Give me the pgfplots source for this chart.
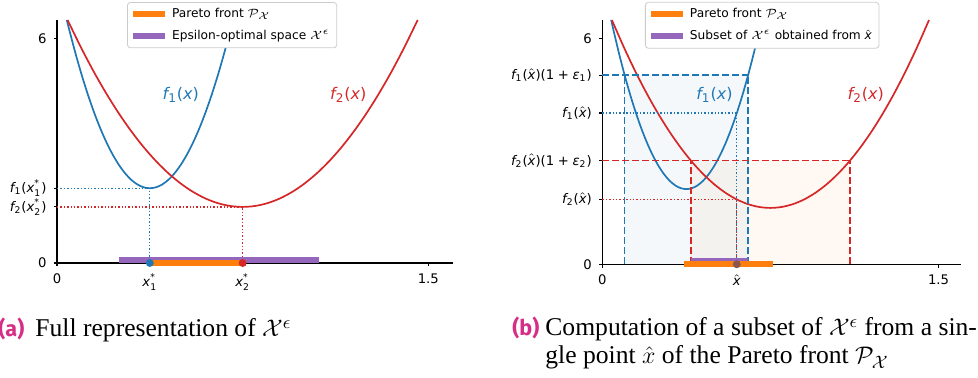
\documentclass[border=0pt]{standalone}
\usepackage{amsmath}
\usepackage{fontspec}
\usepackage{pgfplots}
\pgfplotsset{compat=1.18}
\setmainfont{DejaVu Sans}
\newfontfamily\capfont{Liberation Serif}
\newfontfamily\labfont{Fira Sans}
\definecolor{tblue}{HTML}{1F77B4}
\definecolor{tred}{HTML}{D62728}
\definecolor{torange}{HTML}{FF7F0E}
\definecolor{tpurple}{HTML}{9467BD}
\definecolor{tbrown}{HTML}{8C564B}
\definecolor{capmag}{RGB}{214,46,135}
\newcommand{\ti}[1]{\text{\itshape #1}}
\newcommand{\tu}[1]{\text{#1}}
\newcommand{\pl}{\mathbin{\text{+}}}
\newcommand{\tfont}{\fontsize{6.6}{7.9}\selectfont}
\newcommand{\gfont}{\fontsize{6.1}{7.3}\selectfont}
\newcommand{\lfont}{\fontsize{8}{9.6}\selectfont}
\newcommand{\cfont}{\capfont\fontsize{12.8}{15}\selectfont}
\newcommand{\kfont}{\labfont\bfseries\fontsize{10.8}{13}\selectfont}
\pgfplotsset{
  panel/.style={
    scale only axis, clip=false,
    axis x line*=bottom, axis y line*=left,
    axis line style={black, line width=0.55pt, -},
    tick style={black, line width=0.55pt},
    major tick length=1.75pt,
    xtick align=outside, ytick align=outside,
    xmin=0, xmax=1.6, ymin=0, ymax=6.5,
    ticklabel style={font=\tfont},
    legend cell align=left,
    legend style={draw=black!20, rounded corners=1.5pt, fill=white,
      font=\gfont, anchor=north west, inner xsep=1.5pt, inner ysep=0.8pt,
      row sep=0.8pt},
    legend image code/.code={\draw[##1] (0pt,0pt) -- (16pt,0pt);},
  },
  curve/.style={line width=0.85pt, smooth},
  dotl/.style={line width=0.65pt, dash pattern=on 0.7pt off 1.0pt},
  dashl/.style={line width=0.75pt, dash pattern=on 3.5pt off 1.5pt},
  bar/.style={line width=2.8pt, line cap=butt},
}
\begin{document}
\begin{tikzpicture}
\path[use as bounding box] (0,0) rectangle (489pt,189pt);
% ---------------- panel (a)
\begin{axis}[panel, at={(28.5pt,57.5pt)}, anchor=south west,
  width=198pt, height=121.5pt,
  xtick={0,0.375,0.75,1.5},
  xticklabels={0,$\ti{x}^{\tu{*}}_{\tu{1}}$,$\ti{x}^{\tu{*}}_{\tu{2}}$,1.5},
  ytick={0,1.5,2,6},
  yticklabels={0,$\ti{f}_{\tu{2}}\tu{(}\ti{x}^{\tu{*}}_{\tu{2}}\tu{)}$,$\ti{f}_{\tu{1}}\tu{(}\ti{x}^{\tu{*}}_{\tu{1}}\tu{)}$,6},
  legend style={at={(0.177,1.074)}},
]
\addplot[tblue, curve, forget plot] coordinates {
(0.0396,6.5) (0.05,6.225) (0.075,5.6) (0.1,5.025) (0.125,4.5) (0.15,4.025)
(0.175,3.6) (0.2,3.225) (0.225,2.9) (0.25,2.625) (0.275,2.4) (0.3,2.225)
(0.325,2.1) (0.35,2.025) (0.375,2) (0.4,2.025) (0.425,2.1) (0.45,2.225)
(0.475,2.4) (0.5,2.625) (0.525,2.9) (0.55,3.225) (0.575,3.6) (0.6,4.025)
(0.625,4.5) (0.65,5.025) (0.675,5.6) (0.7,6.225) (0.7104,6.5)};
\addplot[tred, curve, forget plot] coordinates {
(0.0429,6.5) (0.05,6.4) (0.1,5.725) (0.15,5.1) (0.2,4.525) (0.25,4.0)
(0.3,3.525) (0.35,3.1) (0.4,2.725) (0.45,2.4) (0.5,2.125) (0.55,1.9)
(0.6,1.725) (0.65,1.6) (0.7,1.525) (0.75,1.5) (0.8,1.525) (0.85,1.6)
(0.9,1.725) (0.95,1.9) (1.0,2.125) (1.05,2.4) (1.1,2.725) (1.15,3.1)
(1.2,3.525) (1.25,4.0) (1.3,4.525) (1.35,5.1) (1.4,5.725) (1.45,6.4) (1.4571,6.5)};
\addplot[tblue, dotl, forget plot] coordinates {(0,2) (0.375,2) (0.375,0)};
\addplot[tred, dotl, forget plot] coordinates {(0,1.5) (0.75,1.5) (0.75,0)};
\addplot[tpurple, bar, forget plot] coordinates {(0.251,0.08) (1.058,0.08)};
\addplot[torange, bar, forget plot] coordinates {(0.363,0) (0.762,0)};
\addplot[only marks, mark=*, mark size=1.75pt, tblue, forget plot] coordinates {(0.375,0)};
\addplot[only marks, mark=*, mark size=1.75pt, tred, forget plot] coordinates {(0.75,0)};
\node[tblue, font=\lfont] at (axis cs:0.5,4.5) {$\ti{f}_{\tu{1}}\tu{(}\ti{x}\tu{)}$};
\node[tred, font=\lfont] at (axis cs:1.177,4.5) {$\ti{f}_{\tu{2}}\tu{(}\ti{x}\tu{)}$};
\addlegendimage{torange, bar}
\addlegendentry{Pareto front $\mathcal{P}_{\mathcal{X}}$}
\addlegendimage{tpurple, bar}
\addlegendentry{Epsilon-optimal space $\mathcal{X}^{\epsilon}$}
\end{axis}
% ---------------- panel (b)
\begin{axis}[panel, at={(301.15pt,56.85pt)}, anchor=south west,
  width=179.35pt, height=122.15pt,
  xtick={0,0.6,1.5},
  xticklabels={0,$\hat{\ti{x}}$,1.5},
  ytick={0,1.725,2.76,4.025,5.03,6},
  yticklabels={0,
    $\ti{f}_{\tu{2}}\tu{(}\hat{\ti{x}}\tu{)}$,
    $\ti{f}_{\tu{2}}\tu{(}\hat{\ti{x}}\tu{)(1}\pl\ti{ε}_{\tu{2}}\tu{)}$,
    $\ti{f}_{\tu{1}}\tu{(}\hat{\ti{x}}\tu{)}$,
    $\ti{f}_{\tu{1}}\tu{(}\hat{\ti{x}}\tu{)(1}\pl\ti{ε}_{\tu{1}}\tu{)}$,
    6},
  legend style={at={(0.119,1.074)}},
]
\addplot[fill=tblue, fill opacity=0.05, draw=none, forget plot] coordinates {(0.0997,0) (0.0997,5.03) (0.6503,5.03) (0.6503,0) (0.0997,0)};
\addplot[fill=torange, fill opacity=0.05, draw=none, forget plot] coordinates {(0.395,0) (0.395,2.76) (1.105,2.76) (1.105,0) (0.395,0)};
\addplot[tblue, curve, forget plot] coordinates {
(0.0396,6.5) (0.05,6.225) (0.075,5.6) (0.1,5.025) (0.125,4.5) (0.15,4.025)
(0.175,3.6) (0.2,3.225) (0.225,2.9) (0.25,2.625) (0.275,2.4) (0.3,2.225)
(0.325,2.1) (0.35,2.025) (0.375,2) (0.4,2.025) (0.425,2.1) (0.45,2.225)
(0.475,2.4) (0.5,2.625) (0.525,2.9) (0.55,3.225) (0.575,3.6) (0.6,4.025)
(0.625,4.5) (0.65,5.025) (0.675,5.6) (0.7,6.225) (0.7104,6.5)};
\addplot[tred, curve, forget plot] coordinates {
(0.0429,6.5) (0.05,6.4) (0.1,5.725) (0.15,5.1) (0.2,4.525) (0.25,4.0)
(0.3,3.525) (0.35,3.1) (0.4,2.725) (0.45,2.4) (0.5,2.125) (0.55,1.9)
(0.6,1.725) (0.65,1.6) (0.7,1.525) (0.75,1.5) (0.8,1.525) (0.85,1.6)
(0.9,1.725) (0.95,1.9) (1.0,2.125) (1.05,2.4) (1.1,2.725) (1.15,3.1)
(1.2,3.525) (1.25,4.0) (1.3,4.525) (1.35,5.1) (1.4,5.725) (1.45,6.4) (1.4571,6.5)};
\addplot[tblue, dashl, forget plot] coordinates {(0,5.03) (0.6503,5.03)};
\addplot[tblue, dashl, forget plot] coordinates {(0.0997,0) (0.0997,5.03)};
\addplot[tblue, dashl, forget plot] coordinates {(0.6503,0) (0.6503,5.03)};
\addplot[tred, dashl, forget plot] coordinates {(0,2.76) (1.105,2.76)};
\addplot[tred, dashl, forget plot] coordinates {(0.395,0) (0.395,2.76)};
\addplot[tred, dashl, forget plot] coordinates {(1.105,0) (1.105,2.76)};
\addplot[tblue, dotl, forget plot] coordinates {(0,4.025) (0.6,4.025) (0.6,0)};
\addplot[tred, dotl, forget plot] coordinates {(0,1.725) (0.6,1.725) (0.6,0)};
\addplot[tpurple, bar, forget plot] coordinates {(0.395,0.08) (0.650,0.08)};
\addplot[torange, bar, forget plot] coordinates {(0.363,0) (0.762,0)};
\addplot[only marks, mark=*, mark size=1.75pt, tbrown, forget plot] coordinates {(0.6,0)};
\node[tblue, font=\lfont] at (axis cs:0.5,4.5) {$\ti{f}_{\tu{1}}\tu{(}\ti{x}\tu{)}$};
\node[tred, font=\lfont] at (axis cs:1.175,4.5) {$\ti{f}_{\tu{2}}\tu{(}\ti{x}\tu{)}$};
\addlegendimage{torange, bar}
\addlegendentry{Pareto front $\mathcal{P}_{\mathcal{X}}$}
\addlegendimage{tpurple, bar}
\addlegendentry{Subset of $\mathcal{X}^{\epsilon}$ obtained from $\hat{\ti{x}}$}
\end{axis}
% ---------------- captions
\node[anchor=base west, inner sep=0, text=capmag, font=\kfont] at (-1pt,20.5pt) {(a)};
\node[anchor=base west, inner sep=0, font=\cfont] at (17.5pt,20.5pt) {Full representation of $\mathcal{X}^{\epsilon}$};
\node[anchor=base west, inner sep=0, text=capmag, font=\kfont] at (256pt,21pt) {(b)};
\node[anchor=base west, inner sep=0, font=\cfont] at (272.5pt,21pt) {Computation of a subset of $\mathcal{X}^{\epsilon}$ from a sin-};
\node[anchor=base west, inner sep=0, font=\cfont] at (272.5pt,7pt) {gle point $\hat{x}$ of the Pareto front $\mathcal{P}_{\mathcal{X}}$};
\end{tikzpicture}
\end{document}
